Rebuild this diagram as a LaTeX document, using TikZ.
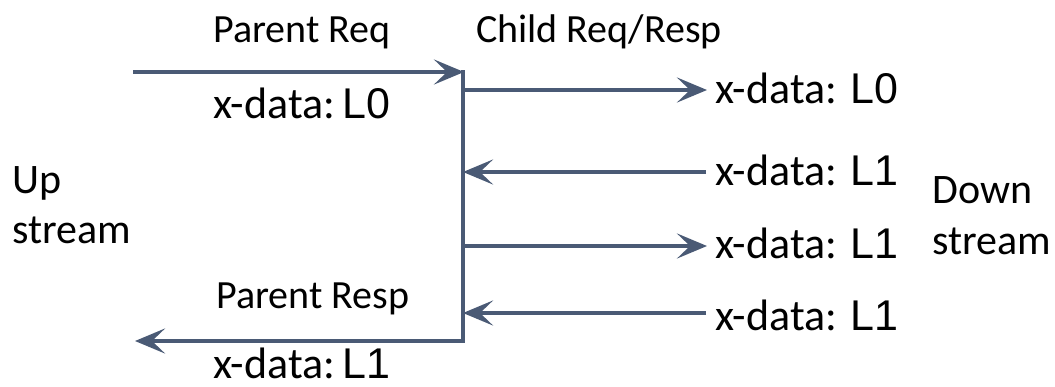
\documentclass[tikz,border=0pt]{standalone}
\usepackage{fontspec}
\setmainfont{Carlito}
\newfontfamily\levelfont{Liberation Sans}
\usetikzlibrary{arrows.meta}
\definecolor{wire}{HTML}{4A5A75}
\tikzset{
  wire/.style={draw=wire, line width=3.8pt},
  flow/.style={wire, -{Stealth[length=30pt, width=25pt, inset=13pt]}},
  lbl/.style={anchor=base west, inner sep=0pt, font=\fontsize{40}{42}\selectfont},
  sidelbl/.style={lbl, font=\fontsize{42}{44}\selectfont},
  datalbl/.style={lbl, font=\fontsize{44}{46}\selectfont}
}
\newcommand{\lvl}[1]{{\levelfont\fontsize{43}{46}\selectfont #1}}
\begin{document}
\begin{tikzpicture}[x=1pt, y=-1pt]
\useasboundingbox (0,0) rectangle (1055,386);
% junction points on the bus
\coordinate (top) at (463,70);
\coordinate (bot) at (463,341);
\coordinate (pin) at (133,72);
\coordinate (pout) at (135,341);
\coordinate (b1) at (463,90);
\coordinate (b2) at (463,172);
\coordinate (b3) at (463,246);
\coordinate (b4) at (463,313);
\coordinate (e1) at (707,90);
\coordinate (e2) at (706,172);
\coordinate (e3) at (707,246);
\coordinate (e4) at (706,313);
% bus
\draw[wire] (top) -- (bot);
\draw[wire] (bot) -- ([xshift=-1.9pt]bot);
% parent request and response
\draw[flow] (pin) -- ([xshift=1pt]top |- pin);
\draw[flow] ([xshift=1.9pt]bot) -- (pout);
% child request/response wires
\draw[flow] (b1) -- (e1);
\draw[flow] (e2) -- (b2);
\draw[flow] (b3) -- (e3);
\draw[flow] (e4) -- (b4);
% labels
\node[lbl] (preq) at (213,42) {Parent Req};
\node[lbl] (creq) at (476,42) {Child Req/Resp};
\node[datalbl] (preqd) at (213,118) {x-data:\,\lvl{L0}};
\node[lbl] (presp) at (216,308) {Parent Resp};
\node[datalbl] (prespd) at (213,378) {x-data:\,\lvl{L1}};
\node[datalbl] (d1) at (715,103) {x-data: \lvl{L0}};
\node[datalbl] (d2) at (715,185) {x-data: \lvl{L1}};
\node[datalbl] (d3) at (715,258) {x-data: \lvl{L1}};
\node[datalbl] (d4) at (715,330) {x-data: \lvl{L1}};
\node[sidelbl] (up) at (12,193) {Up};
\node[sidelbl] (ups) at (12,243) {stream};
\node[sidelbl] (dn) at (932,203) {Down};
\node[sidelbl] (dns) at (932,254) {stream};
\end{tikzpicture}
\end{document}
